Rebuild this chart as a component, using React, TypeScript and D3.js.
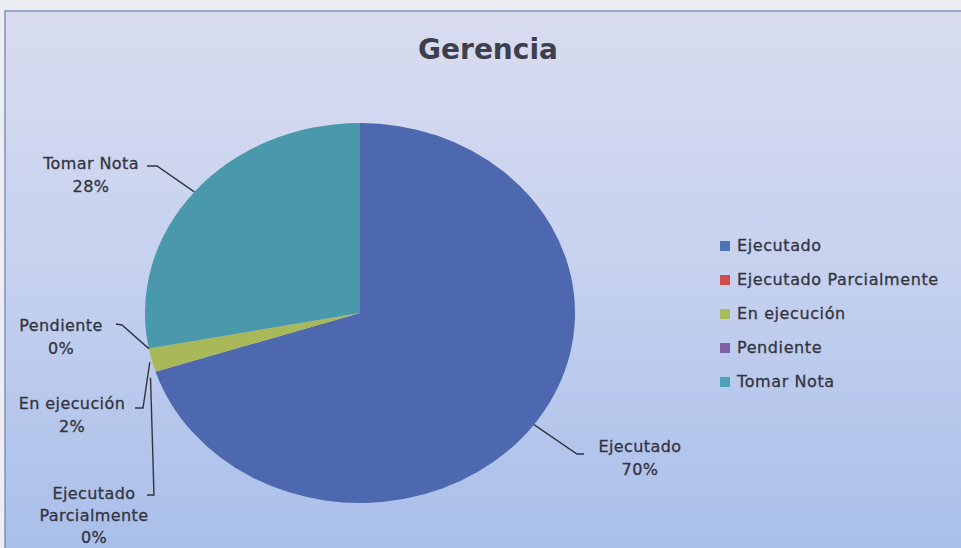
import React, { useRef, useEffect } from 'react';
import * as d3 from 'd3';

const categories = ['Ejecutado', 'Ejecutado Parcialmente', 'En ejecución', 'Pendiente', 'Tomar Nota'];
const values = [70, 0, 2, 0, 28];
const percentLabels = ['70%', '0%', '2%', '0%', '28%'];
const sliceColors = ['#4d68ae', '#c0504d', '#a9b95a', '#8064a2', '#4a98ab'];
const legendColors = ['#4f73b8', '#d24a4a', '#a6bd5c', '#8060a6', '#4aa3b8'];

interface LabelSpot {
    lines: string[];
    x: number;
    y: number;
    gap: number;
    elbow: [number, number][];
}

const App: React.FC = () => {
    const ref = useRef<SVGSVGElement | null>(null);

    useEffect(() => {
        if (!ref.current) return;
        const W = 961, H = 548;
        const svg = d3.select(ref.current);
        svg.selectAll('*').remove();
        svg.attr('width', W).attr('height', H);

        const defs = svg.append('defs');
        const grad = defs.append('linearGradient').attr('id', 'bg').attr('x1', 0).attr('y1', 0).attr('x2', 0).attr('y2', 1);
        grad.append('stop').attr('offset', '0%').attr('stop-color', '#d9dcef');
        grad.append('stop').attr('offset', '45%').attr('stop-color', '#c7d2ef');
        grad.append('stop').attr('offset', '100%').attr('stop-color', '#a8bee9');

        svg.append('rect').attr('width', W).attr('height', H).attr('fill', '#eceef4');
        svg.append('rect')
            .attr('x', 5).attr('y', 11).attr('width', W).attr('height', H)
            .attr('fill', 'url(#bg)')
            .attr('stroke', '#7f93b8').attr('stroke-width', 1.5);

        const textColor = '#33343f';
        const font = '"DejaVu Sans", Verdana, sans-serif';

        svg.append('text')
            .attr('x', 488).attr('y', 59)
            .attr('text-anchor', 'middle')
            .attr('font-family', font).attr('font-weight', 'bold')
            .attr('font-size', 28).attr('fill', '#3e3f4c')
            .text('Gerencia');

        // pie (slightly stretched horizontally like the reference)
        const cx = 360, cy = 313, rx = 215, ry = 190;
        const pie = d3.pie<number>().sort(null).value(d => d);
        const arcs = pie(values);
        const arc = d3.arc<d3.PieArcDatum<number>>().innerRadius(0).outerRadius(rx);

        const g = svg.append('g').attr('transform', `translate(${cx},${cy}) scale(1,${ry / rx})`);
        g.selectAll('path')
            .data(arcs)
            .join('path')
            .attr('d', d => arc(d) as string)
            .attr('fill', (d, i) => sliceColors[i]);

        const edge = (a: number): [number, number] => [cx + Math.sin(a) * rx, cy - Math.cos(a) * ry];

        const spots: LabelSpot[] = [
            { lines: ['Ejecutado'], x: 640, y: 452, gap: 23, elbow: [[584, 454], [577, 454]] },
            { lines: ['Ejecutado', 'Parcialmente'], x: 94, y: 499, gap: 22, elbow: [[147, 495], [154, 495]] },
            { lines: ['En ejecución'], x: 72, y: 409, gap: 23, elbow: [[135, 408], [143, 408]] },
            { lines: ['Pendiente'], x: 61, y: 331, gap: 23, elbow: [[116, 324], [122, 325]] },
            { lines: ['Tomar Nota'], x: 91, y: 169, gap: 23, elbow: [[147, 166], [157, 166]] },
        ];
        const tipShift: [number, number][] = [[0, 0], [-5, 6], [-2, 2], [0, 0], [0, 0]];

        arcs.forEach((d, i) => {
            const s = spots[i];
            const p = edge((d.startAngle + d.endAngle) / 2);
            const pts: [number, number][] = [s.elbow[0], s.elbow[1], [p[0] + tipShift[i][0], p[1] + tipShift[i][1]]];
            svg.append('path')
                .attr('d', d3.line()(pts) as string)
                .attr('fill', 'none')
                .attr('stroke', '#34343e')
                .attr('stroke-width', 1.4);

            const t = svg.append('text')
                .attr('text-anchor', 'middle')
                .attr('font-family', font).attr('font-size', 16)
                .attr('letter-spacing', 0.4)
                .attr('fill', textColor)
                .attr('stroke', textColor).attr('stroke-width', 0.3);
            const lines = [...s.lines, percentLabels[i]];
            lines.forEach((ln, k) => {
                t.append('tspan').attr('x', s.x).attr('y', s.y + k * s.gap).text(ln);
            });
        });

        // legend
        const legendY = d3.scalePoint<string>().domain(categories).range([246, 382]);
        const lg = svg.append('g');
        categories.forEach((c, i) => {
            const y = legendY(c) as number;
            lg.append('rect').attr('x', 720).attr('y', y - 5).attr('width', 10).attr('height', 10).attr('fill', legendColors[i]);
            lg.append('text')
                .attr('x', 737).attr('y', y + 5)
                .attr('font-family', font).attr('font-size', 16)
                .attr('letter-spacing', 0.6)
                .attr('fill', textColor)
                .attr('stroke', textColor).attr('stroke-width', 0.3)
                .text(c);
        });
    }, []);

    return (
        <div style={{ position: 'fixed', left: 0, top: 0 }}>
            <svg ref={ref} style={{ display: 'block' }} />
        </div>
    );
};

export default App;
